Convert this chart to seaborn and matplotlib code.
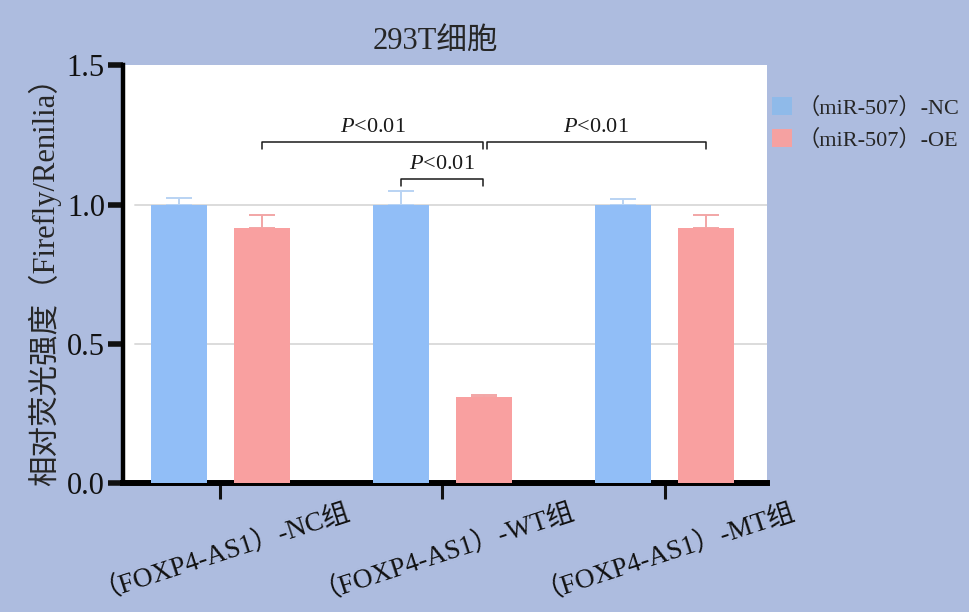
import matplotlib
matplotlib.use('Agg')
import matplotlib.pyplot as plt
import matplotlib.transforms as mtransforms
from matplotlib.patches import Patch
import seaborn as sns
import pandas as pd

# ---- data ----
groups = ['（FOXP4-AS1）-NC组', '（FOXP4-AS1）-WT组', '（FOXP4-AS1）-MT组']
series = ['（miR-507）-NC', '（miR-507）-OE']
nc_means = [1.00, 1.00, 1.00]
oe_means = [0.917, 0.31, 0.917]
nc_err = [0.024, 0.05, 0.021]
oe_err = [0.046, 0.007, 0.046]
title = '293T细胞'
ylabel = '相对荧光强度（Firefly/Renilia）'
yticks = [0.0, 0.5, 1.0, 1.5]
ytick_labels = ['0.0', '0.5', '1.0', '1.5']
sig_text = '$P$<0.01'
# brackets: (group_a, series_a, group_b, series_b, y_level)
brackets = [(0, 1, 1, 1, 1.225), (1, 0, 1, 1, 1.093), (1, 1, 2, 1, 1.225)]

# ---- style ----
bg = '#ADBCDF'
bar_colors = ['#91BEF7', '#F9A0A0']
err_colors = ['#B9D3F3', '#F2A6A6']
legend_colors = ['#8FBAE9', '#F5A1A1']

sns.set_theme(style='white')
plt.rcParams['font.family'] = ['Liberation Serif', 'Noto Sans CJK SC', 'DejaVu Sans']
plt.rcParams['mathtext.fontset'] = 'custom'
plt.rcParams['mathtext.it'] = 'Liberation Serif:italic'
plt.rcParams['mathtext.rm'] = 'Liberation Serif'

df = pd.DataFrame({
    'group': groups * 2,
    'series': [series[0]] * 3 + [series[1]] * 3,
    'value': nc_means + oe_means,
})

fig = plt.figure(figsize=(9.7, 6.12), dpi=100, facecolor=bg)
ax = fig.add_axes([0.1268, 0.210, 0.664, 0.683])
ax.set_facecolor('white')

sns.barplot(data=df, x='group', y='value', hue='series', order=groups,
            hue_order=series, palette=bar_colors, width=0.748, gap=0.326,
            errorbar=None, saturation=1, legend=False, ax=ax, zorder=3,
            linewidth=0, edgecolor='none')

# grid lines
for yv in [0.5, 1.0]:
    ax.axhline(yv, xmin=0.019, xmax=1, color='#DCDCDC', lw=1.4, zorder=1)

# error bars (upper only)
bar_conts = list(ax.containers)
centers = []
errs = [nc_err, oe_err]
means = [nc_means, oe_means]
for si, cont in enumerate(bar_conts):
    xs = [p.get_x() + p.get_width() / 2 for p in cont.patches]
    centers.append(xs)
for si, xs in enumerate(centers):
    ax.errorbar(xs, means[si], yerr=[[0] * 3, errs[si]], fmt='none',
                ecolor=err_colors[si], elinewidth=1.4, capsize=9.5,
                capthick=1.4, zorder=2)

# significance brackets
for ga, sa, gb, sb, yl in brackets:
    x1 = centers[sa][ga]
    x2 = centers[sb][gb]
    if ga == 1 and sa == 1:
        x1 += 0.012
    if gb == 1 and sb == 1 and not (ga == 1 and sa == 1):
        x2 -= 0.005
    ax.plot([x1, x1, x2, x2], [yl - 0.025, yl, yl, yl - 0.025],
            color='#1a1a1a', lw=1.1, zorder=4, clip_on=False)
    ax.text((x1 + x2) / 2, yl + 0.018, sig_text, ha='center', va='bottom',
            fontsize=16, color='#1a1a1a')

ax.set_xlim(-0.439, 2.462)
ax.set_ylim(0, 1.5)
ax.set_yticks(yticks)
ax.set_yticklabels(ytick_labels, fontsize=22)
ax.set_xticks(range(len(groups)))
ax.set_xticklabels(groups, fontsize=19.5, rotation=18, ha='center')
offset = mtransforms.ScaledTranslation(-0.28, 0.0, fig.dpi_scale_trans)
for lab in ax.get_xticklabels():
    lab.set_transform(lab.get_transform() + offset)

ax.set_xlabel('')
ax.set_ylabel(ylabel, fontsize=22, labelpad=4)
ax.set_title(title, fontsize=22, pad=12, x=0.485)

for s in ['top', 'right']:
    ax.spines[s].set_visible(False)
ax.spines['left'].set_linewidth(3.2)
ax.spines['bottom'].set_linewidth(4.3)
ax.spines['left'].set_color('black')
ax.spines['bottom'].set_color('black')
ax.tick_params(axis='y', length=11, width=4, pad=2, colors='#111111', left=True)
ax.tick_params(axis='x', length=11.5, width=2.2, pad=-4, colors='#111111', bottom=True)

handles = [Patch(facecolor=c, edgecolor='none') for c in legend_colors]
fig.legend(handles, series, loc='upper left', bbox_to_anchor=(0.796, 0.842),
           frameon=False, fontsize=16, handlelength=0.9, handleheight=0.9,
           handletextpad=0.25, borderpad=0, labelspacing=0.45,
           borderaxespad=0)

fig.savefig('out.png', dpi=100, facecolor=bg)
